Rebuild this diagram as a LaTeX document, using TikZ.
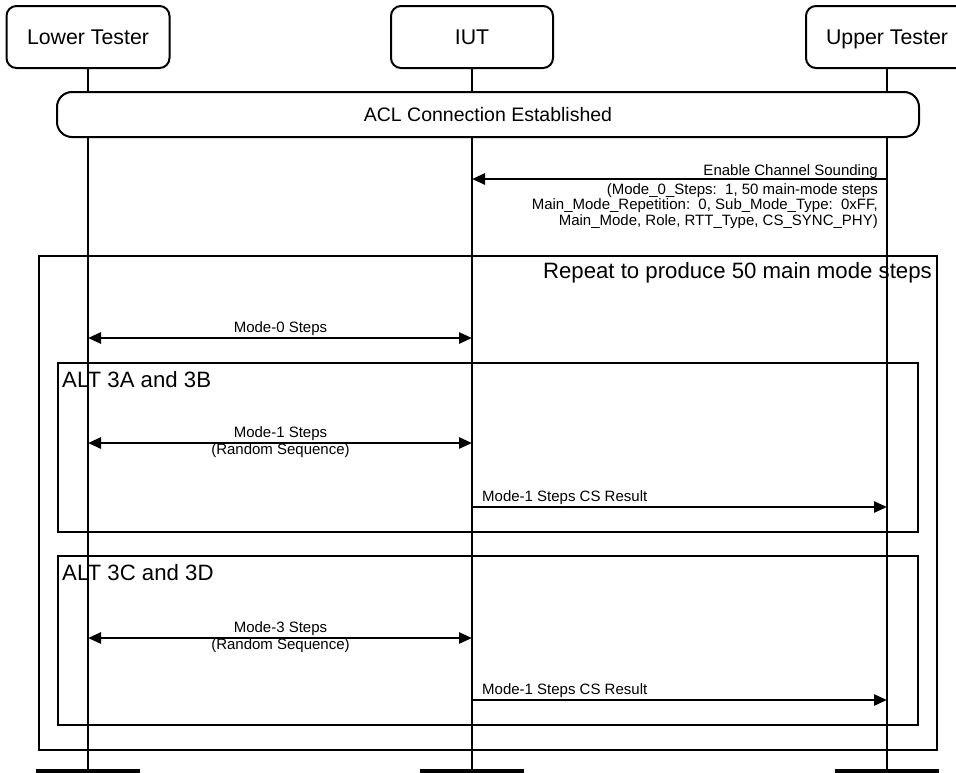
\documentclass[tikz,border=0pt]{standalone}
\usepackage{fontspec}
\setmainfont{Liberation Sans}
\usetikzlibrary{arrows.meta}

\tikzset{
  actor/.style={draw, line width=2pt, rounded corners=10pt, fill=white,
    minimum height=62pt, text height=15pt, text depth=0pt, inner sep=0pt,
    font=\fontsize{21.3}{21.3}\selectfont},
  banner/.style={draw, line width=2pt, rounded corners=15pt, fill=white,
    minimum height=45pt, minimum width=862pt, inner sep=0pt,
    font=\fontsize{19.5}{19.5}\selectfont},
  frame/.style={draw, line width=2pt},
  lifeline/.style={line width=2pt},
  endbar/.style={line width=3.5pt},
  msg/.style={line width=2.6pt, -{Triangle[length=13pt,width=11pt]}},
  dmsg/.style={line width=2.6pt, {Triangle[length=13pt,width=11pt]}-{Triangle[length=13pt,width=11pt]}},
  small/.style={inner sep=0pt, font=\fontsize{15}{15}\selectfont},
  big/.style={inner sep=0pt, font=\fontsize{22.2}{22.2}\selectfont},
}

\begin{document}
\begin{tikzpicture}[x=1pt, y=-1pt]
  \path[use as bounding box, clip] (0,0) rectangle (956,772);

  % loop and alternative frames
  \draw[frame] (39,256) rectangle (937,750);
  \draw[frame] (58,363) rectangle (918,532);
  \draw[frame] (58,556) rectangle (918,725);

  \node[big, anchor=base east] (rep) at (932,278) {Repeat to produce 50 main mode steps};
  \node[big, anchor=base west] (alta) at (62,387) {ALT 3A and 3B};
  \node[big, anchor=base west] (altc) at (62,580) {ALT 3C and 3D};

  % lifeline ends
  \coordinate (LTb) at (88,771);
  \coordinate (IUTb) at (472,771);
  \coordinate (UTb) at (887,771);

  % participants
  \node[actor, minimum width=163pt] (LT) at (88,37) {Lower Tester};
  \node[actor, minimum width=162pt] (IUT) at (472,37) {IUT};
  \node[actor, minimum width=162pt] (UT) at (887,37) {Upper Tester};

  \draw[lifeline] (LT.south) -- (LTb);
  \draw[lifeline] (IUT.south) -- (IUTb);
  \draw[lifeline] (UT.south) -- (UTb);

  \draw[endbar] ([xshift=-52pt]LTb) -- ([xshift=52pt]LTb);
  \draw[endbar] ([xshift=-52pt]IUTb) -- ([xshift=52pt]IUTb);
  \draw[endbar] ([xshift=-52pt]UTb) -- ([xshift=52pt]UTb);

  % connection banner
  \node[banner] (acl) at (488,114.5) {ACL Connection Established};

  % Enable Channel Sounding
  \coordinate (ecsU) at (887,179);
  \coordinate (ecsI) at (472,179);
  \draw[msg] (ecsU) -- (ecsI);
  \node[small, anchor=base east] (ecs0) at (878,175) {Enable Channel Sounding};
  \node[small, anchor=base east] (ecs1) at (878,194) {(Mode\_0\_Steps:\ \ 1, 50 main-mode steps};
  \node[small, anchor=base east] (ecs2) at (878,209.5) {Main\_Mode\_Repetition:\ \ 0, Sub\_Mode\_Type:\ \ 0xFF,};
  \node[small, anchor=base east] (ecs3) at (878,225) {Main\_Mode, Role, RTT\_Type, CS\_SYNC\_PHY)};

  % Mode-0
  \coordinate (m0L) at (88,338);
  \coordinate (m0I) at (472,338);
  \draw[dmsg] (m0L) -- (m0I);
  \node[small, anchor=base] (m0t) at (280.5,332.5) {Mode-0 Steps};

  % ALT 3A/3B
  \coordinate (m1L) at (88,443);
  \coordinate (m1I) at (472,443);
  \draw[dmsg] (m1L) -- (m1I);
  \node[small, anchor=base] (m1t) at (280.5,437.5) {Mode-1 Steps};
  \node[small, anchor=base] (m1s) at (280.5,454) {(Random Sequence)};

  \coordinate (r1I) at (472,507);
  \coordinate (r1U) at (887,507);
  \draw[msg] (r1I) -- (r1U);
  \node[small, anchor=base west] (r1t) at (482,501) {Mode-1 Steps CS Result};

  % ALT 3C/3D
  \coordinate (m3L) at (88,638);
  \coordinate (m3I) at (472,638);
  \draw[dmsg] (m3L) -- (m3I);
  \node[small, anchor=base] (m3t) at (280.5,632.5) {Mode-3 Steps};
  \node[small, anchor=base] (m3s) at (280.5,649) {(Random Sequence)};

  \coordinate (r3I) at (472,700);
  \coordinate (r3U) at (887,700);
  \draw[msg] (r3I) -- (r3U);
  \node[small, anchor=base west] (r3t) at (482,694) {Mode-1 Steps CS Result};
\end{tikzpicture}
\end{document}
